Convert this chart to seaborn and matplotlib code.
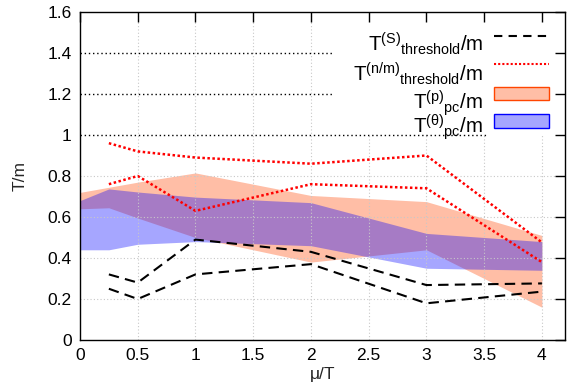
import numpy as np
import pandas as pd
import matplotlib
matplotlib.use("Agg")
import matplotlib.pyplot as plt
import seaborn as sns
from matplotlib.lines import Line2D
from matplotlib.patches import Rectangle

# ---- data ----
mu_band = [0, 0.25, 0.5, 1, 2, 3, 4]
p_hi = [0.72, 0.745, 0.77, 0.815, 0.705, 0.675, 0.51]
p_lo = [0.64, 0.645, 0.595, 0.50, 0.38, 0.44, 0.16]
th_hi = [0.68, 0.737, 0.722, 0.697, 0.67, 0.52, 0.48]
th_lo = [0.44, 0.44, 0.467, 0.48, 0.46, 0.35, 0.34]

mu_line = [0.25, 0.5, 1, 2, 3, 4]
s_hi = [0.32, 0.28, 0.49, 0.43, 0.268, 0.276]
s_lo = [0.25, 0.20, 0.32, 0.37, 0.179, 0.236]
nm_hi = [0.96, 0.92, 0.89, 0.86, 0.90, 0.476]
nm_lo = [0.76, 0.80, 0.63, 0.76, 0.74, 0.38]

xticks = [0, 0.5, 1, 1.5, 2, 2.5, 3, 3.5, 4]
xtick_labels = ["0", "0.5", "1", "1.5", "2", "2.5", "3", "3.5", "4"]
yticks = [0, 0.2, 0.4, 0.6, 0.8, 1.0, 1.2, 1.4, 1.6]
ytick_labels = ["0", "0.2", "0.4", "0.6", "0.8", "1", "1.2", "1.4", "1.6"]

labels = [r"$\mathregular{T^{(S)}{}_{threshold}/m}$",
          r"$\mathregular{T^{(n/m)}{}_{threshold}/m}$",
          r"$\mathregular{T^{(p)}{}_{pc}/m}$",
          r"$\mathregular{T^{(\theta)}{}_{pc}/m}$"]

sns.set_style("white")
plt.rcParams["font.family"] = ["Liberation Sans", "DejaVu Sans"]
plt.rcParams["mathtext.default"] = "regular"

W, H = 568, 390
fig = plt.figure(figsize=(W / 100, H / 100), dpi=100)
ax = fig.add_axes([80 / W, 50 / H, 485 / W, 328 / H])

ORANGE = "#FF4500"
BLUE = "#0000FF"

band = pd.DataFrame({"mu": mu_band, "p_hi": p_hi, "p_lo": p_lo,
                     "th_hi": th_hi, "th_lo": th_lo})
ax.fill_between(band["mu"], band["p_lo"], band["p_hi"], color=ORANGE,
                alpha=0.35, lw=0, zorder=1)
ax.fill_between(band["mu"], band["th_lo"], band["th_hi"], color=BLUE,
                alpha=0.35, lw=0, zorder=1.1)

# grid in front of fills
for xv in xticks[1:]:
    ax.axvline(xv, color="#c8c8c8", lw=0.8, ls=(0, (1, 2)), zorder=2)
for yv in yticks[1:5]:
    ax.axhline(yv, color="#c8c8c8", lw=0.8, ls=(0, (1, 2)), zorder=2)

# opaque key area
ax.add_patch(Rectangle((0.522, 0.625), 0.478, 0.375, transform=ax.transAxes,
                       facecolor="white", edgecolor="none", zorder=2.2))

# black dotted reference lines
ax.plot([0, 2.18], [1.4, 1.4], color="black", lw=1.0, ls=(0, (1, 2)), zorder=3)
ax.plot([0, 2.18], [1.2, 1.2], color="black", lw=1.0, ls=(0, (1, 2)), zorder=3)
ax.plot([0, 3.53], [1.0, 1.0], color="black", lw=1.0, ls=(0, (1, 2)), zorder=3)

lines = pd.DataFrame({"mu": mu_line, "s_hi": s_hi, "s_lo": s_lo,
                      "nm_hi": nm_hi, "nm_lo": nm_lo})
for col in ["s_hi", "s_lo"]:
    sns.lineplot(data=lines, x="mu", y=col, ax=ax, color="black", lw=1.5,
                 linestyle=(0, (5, 3)), estimator=None, sort=False, zorder=4)
for col in ["nm_hi", "nm_lo"]:
    sns.lineplot(data=lines, x="mu", y=col, ax=ax, color="red", lw=1.8,
                 linestyle=(0, (1, 1)), estimator=None, sort=False, zorder=4)

ax.set_xlim(0, 4.2)
ax.set_ylim(0, 1.6)
ax.set_xticks(xticks)
ax.set_xticklabels(xtick_labels)
ax.set_yticks(yticks)
ax.set_yticklabels(ytick_labels)
ax.tick_params(direction="in", length=7, width=1, top=True, right=True,
               labelsize=12.5, colors="black")
ax.tick_params(axis="x", pad=6)
ax.tick_params(axis="y", pad=6)
ax.set_xlabel("μ/T", fontsize=12.5, labelpad=3)
ax.set_ylabel("T/m", fontsize=12.5, labelpad=14)
for sp in ax.spines.values():
    sp.set_visible(True)
    sp.set_color("black")
    sp.set_linewidth(1.0)
    sp.set_zorder(6)
ax.xaxis.set_zorder(6)
ax.yaxis.set_zorder(6)


# ---- key (gnuplot style: right-aligned text, sample on the right) ----
def fy(py):
    return 1 - py / H


baselines = [51.7, 80.7, 109.3, 133.3]
for lab, by in zip(labels, baselines):
    fig.text(483 / W, fy(by), lab, ha="right", va="baseline", fontsize=14.8,
             color="black")

x0, x1 = 494 / W, 549 / W
fig.add_artist(Line2D([x0, x1], [fy(36), fy(36)], transform=fig.transFigure,
                      color="black", lw=1.5, ls=(0, (4, 3))))
fig.add_artist(Line2D([x0, x1], [fy(64), fy(64)], transform=fig.transFigure,
                      color="red", lw=1.5, ls=(0, (1, 1))))
fig.add_artist(Rectangle((x0, fy(100)), x1 - x0, 13.3 / H,
                         transform=fig.transFigure,
                         facecolor=(1.0, 0.27, 0.0, 0.35), edgecolor=ORANGE,
                         lw=1))
fig.add_artist(Rectangle((x0, fy(128.3)), x1 - x0, 14 / H,
                         transform=fig.transFigure,
                         facecolor=(0.0, 0.0, 1.0, 0.35), edgecolor=BLUE,
                         lw=1))

fig.savefig("out.png", dpi=100)
